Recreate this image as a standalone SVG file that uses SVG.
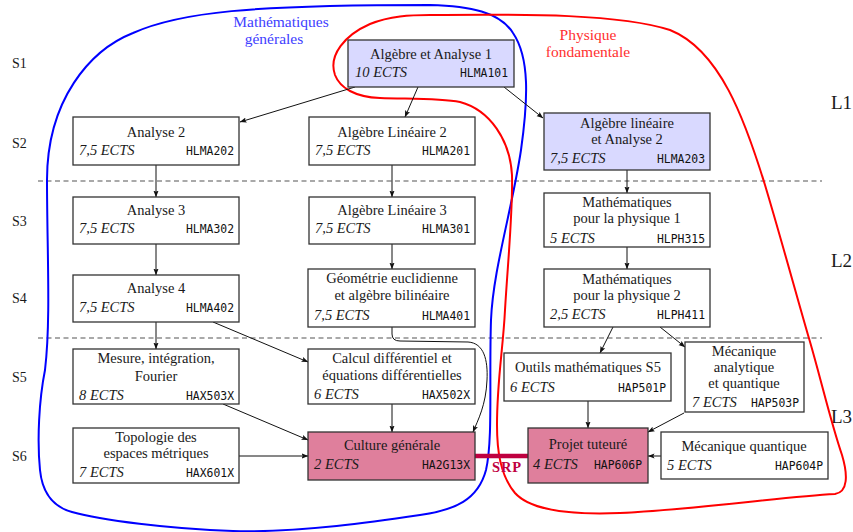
<svg xmlns="http://www.w3.org/2000/svg" width="853" height="532" viewBox="0 0 853 532">
<defs>
<marker id="ah" markerUnits="userSpaceOnUse" markerWidth="7" markerHeight="6" refX="6.5" refY="3" orient="auto">
<path d="M0,0.4 L6.8,3 L0,5.6 L1.3,3 z" fill="#111"/>
</marker>
<style>
.t{font-family:"Liberation Serif","Times New Roman",serif;font-size:14.5px;fill:#1a1a1a;text-anchor:middle}
.e{font-family:"Liberation Serif","Times New Roman",serif;font-size:14.5px;font-style:italic;fill:#1a1a1a}
.c{font-family:"DejaVu Sans Mono","Liberation Mono",monospace;font-size:11.4px;fill:#111;text-anchor:end}
.s{font-family:"Liberation Serif","Times New Roman",serif;font-size:14px;fill:#1a1a1a}
.l{font-family:"Liberation Serif","Times New Roman",serif;font-size:19px;fill:#1a1a1a}
.g{font-family:"Liberation Serif","Times New Roman",serif;font-size:15.5px;text-anchor:middle}
.box{fill:#fff;stroke:#333;stroke-width:1.3}
.lav{fill:#d9d9ff;stroke:#333;stroke-width:1.3}
.pink{fill:#df7f9c;stroke:#333;stroke-width:1.3}
.cn{fill:none;stroke:#111;stroke-width:1;marker-end:url(#ah)}
.dash{stroke:#555;stroke-width:1.1;stroke-dasharray:5,3.5}
</style>
</defs>
<g id="semesters">
<text class="s" x="12" y="68">S1</text>
<text class="s" x="12" y="148">S2</text>
<text class="s" x="12" y="226">S3</text>
<text class="s" x="12" y="303">S4</text>
<text class="s" x="12" y="382">S5</text>
<text class="s" x="12" y="461">S6</text>
<text class="l" x="831" y="109">L1</text>
<text class="l" x="831" y="267">L2</text>
<text class="l" x="831" y="423">L3</text>
</g>
<g id="separators">
<line class="dash" x1="38" y1="181" x2="822" y2="181"/>
<line class="dash" x1="38" y1="338" x2="822" y2="338"/>
</g>
<g id="regions" fill="none" stroke-width="2">
<path stroke="#0000ff" d="M 430,5 C 470,6 500,12 513,33 C 530,58 528,100 521,150 C 512,210 493,270 491,320 C 489,380 493,440 486,470 C 478,500 455,510 420,515 C 380,521 300,533 233,531 C 170,529 100,520 72,512 C 50,506 42,490 40,470 C 37,440 39,400 45,370 C 51,320 47,250 47,180 C 47,100 90,50 133,33 C 180,12 250,5 430,5 Z"/>
<path stroke="#ff0000" d="M 430,15 C 530,14 620,14 670,30 C 720,50 745,120 765,185 C 780,235 795,290 808,335 C 820,375 830,420 842,455 C 848,475 848,492 835,494 C 780,497 690,510 620,513 C 570,515 530,510 515,493 C 500,475 497,450 497,425 C 497,380 503,350 505,310 C 508,260 513,210 512,175 C 510,140 490,110 460,102 C 440,98 410,99 380,98 C 355,97 340,88 335,75 C 328,55 345,35 370,24 C 390,16 410,15 430,15 Z"/>
<text class="g" x="281" y="26.5" fill="#4040ff" stroke="none">Mathématiques</text>
<text class="g" x="274" y="44" fill="#4040ff" stroke="none">générales</text>
<text class="g" x="588" y="39.5" fill="#ff3030" stroke="none">Physique</text>
<text class="g" x="588" y="57" fill="#ff3030" stroke="none">fondamentale</text>
</g>
<g id="connectors">
<line class="cn" x1="355" y1="87" x2="240" y2="122"/>
<line class="cn" x1="418" y1="87" x2="405" y2="117"/>
<line class="cn" x1="504" y1="87" x2="543" y2="118"/>
<line class="cn" x1="156" y1="165" x2="156" y2="197"/>
<line class="cn" x1="392" y1="165" x2="392" y2="197"/>
<line class="cn" x1="627" y1="170" x2="627" y2="193"/>
<line class="cn" x1="156" y1="244" x2="156" y2="275"/>
<line class="cn" x1="392" y1="244" x2="392" y2="269"/>
<line class="cn" x1="627" y1="247" x2="627" y2="269"/>
<line class="cn" x1="156" y1="322" x2="156" y2="349"/>
<line class="cn" x1="213" y1="322" x2="308" y2="362"/>
<path class="cn" d="M392,327 L392,334 Q392,341 400,341 L468,342 C484,343 488,360 487,380 C486,405 478,420 473,432"/>
<line class="cn" x1="392" y1="404" x2="392" y2="432"/>
<line class="cn" x1="223" y1="404" x2="308" y2="440"/>
<line class="cn" x1="239" y1="456" x2="308" y2="456"/>
<line class="cn" x1="613" y1="327" x2="600" y2="353"/>
<line class="cn" x1="660" y1="327" x2="685" y2="347"/>
<line class="cn" x1="588" y1="401" x2="588" y2="428"/>
<line class="cn" x1="684" y1="413" x2="648" y2="432"/>
<line class="cn" x1="661" y1="456" x2="648" y2="456"/>
<line x1="475" y1="456" x2="528" y2="456" stroke="#bf0040" stroke-width="4.5"/>
<text x="507" y="472" font-family="Liberation Serif,serif" font-size="14.5" font-weight="bold" fill="#bf0040" text-anchor="middle" letter-spacing="0.8">SRP</text>
</g>
<g id="HLMA101"><rect class="lav" x="348" y="40" width="166" height="47"/><text class="t" x="431" y="59">Algèbre et Analyse 1</text><text class="e" x="355" y="77">10 ECTS</text><text class="c" x="508" y="77">HLMA101</text></g>
<g id="HLMA202"><rect class="box" x="73" y="117" width="166" height="48"/><text class="t" x="156" y="137">Analyse 2</text><text class="e" x="79" y="155">7,5 ECTS</text><text class="c" x="234" y="155">HLMA202</text></g>
<g id="HLMA201"><rect class="box" x="309" y="117" width="166" height="48"/><text class="t" x="392" y="137">Algèbre Linéaire 2</text><text class="e" x="315" y="155">7,5 ECTS</text><text class="c" x="470" y="155">HLMA201</text></g>
<g id="HLMA203"><rect class="lav" x="544" y="113" width="166" height="57"/><text class="t" x="627" y="128">Algèbre linéaire</text><text class="t" x="627" y="144">et Analyse 2</text><text class="e" x="550" y="163">7,5 ECTS</text><text class="c" x="705" y="163">HLMA203</text></g>
<g id="HLMA302"><rect class="box" x="73" y="197" width="166" height="47"/><text class="t" x="156" y="215">Analyse 3</text><text class="e" x="79" y="233">7,5 ECTS</text><text class="c" x="234" y="233">HLMA302</text></g>
<g id="HLMA301"><rect class="box" x="309" y="197" width="166" height="47"/><text class="t" x="392" y="215">Algèbre Linéaire 3</text><text class="e" x="315" y="233">7,5 ECTS</text><text class="c" x="470" y="233">HLMA301</text></g>
<g id="HLPH315"><rect class="box" x="544" y="193" width="166" height="54"/><text class="t" x="627" y="207">Mathématiques</text><text class="t" x="627" y="223">pour la physique 1</text><text class="e" x="550" y="243">5 ECTS</text><text class="c" x="705" y="243">HLPH315</text></g>
<g id="HLMA402"><rect class="box" x="73" y="275" width="166" height="47"/><text class="t" x="156" y="293">Analyse 4</text><text class="e" x="79" y="312">7,5 ECTS</text><text class="c" x="234" y="312">HLMA402</text></g>
<g id="HLMA401"><rect class="box" x="308" y="269" width="167" height="58"/><text class="t" x="392" y="283">Géométrie euclidienne</text><text class="t" x="392" y="300">et algèbre bilinéaire</text><text class="e" x="314" y="320">7,5 ECTS</text><text class="c" x="470" y="320">HLMA401</text></g>
<g id="HLPH411"><rect class="box" x="544" y="269" width="166" height="58"/><text class="t" x="627" y="284">Mathématiques</text><text class="t" x="627" y="300">pour la physique 2</text><text class="e" x="550" y="319">2,5 ECTS</text><text class="c" x="705" y="319">HLPH411</text></g>
<g id="HAX503X"><rect class="box" x="73" y="349" width="166" height="55"/><text class="t" x="156" y="363">Mesure, intégration,</text><text class="t" x="156" y="381">Fourier</text><text class="e" x="79" y="400">8 ECTS</text><text class="c" x="234" y="400">HAX503X</text></g>
<g id="HAX502X"><rect class="box" x="308" y="349" width="167" height="55"/><text class="t" x="392" y="363">Calcul différentiel et</text><text class="t" x="392" y="380">équations différentielles</text><text class="e" x="314" y="399">6 ECTS</text><text class="c" x="470" y="399">HAX502X</text></g>
<g id="HAP501P"><rect class="box" x="504" y="353" width="167" height="48"/><text class="t" x="588" y="372">Outils mathématiques S5</text><text class="e" x="510" y="392">6 ECTS</text><text class="c" x="666" y="392">HAP501P</text></g>
<g id="HAP503P"><rect class="box" x="685" y="342" width="119" height="70"/><text class="t" x="744" y="356">Mécanique</text><text class="t" x="744" y="372">analytique</text><text class="t" x="744" y="388">et quantique</text><text class="e" x="692" y="407">7 ECTS</text><text class="c" x="799" y="407">HAP503P</text></g>
<g id="HAX601X"><rect class="box" x="73" y="428" width="166" height="55"/><text class="t" x="156" y="442">Topologie des</text><text class="t" x="156" y="458">espaces métriques</text><text class="e" x="79" y="477">7 ECTS</text><text class="c" x="234" y="477">HAX601X</text></g>
<g id="HA2G13X"><rect class="pink" x="308" y="432" width="167" height="48"/><text class="t" x="392" y="450">Culture générale</text><text class="e" x="314" y="469">2 ECTS</text><text class="c" x="470" y="469">HA2G13X</text></g>
<g id="HAP606P"><rect class="pink" x="528" y="428" width="120" height="55"/><text class="t" x="588" y="449">Projet tuteuré</text><text class="e" x="533" y="469">4 ECTS</text><text class="c" x="642" y="469">HAP606P</text></g>
<g id="HAP604P"><rect class="box" x="661" y="432" width="167" height="47"/><text class="t" x="744" y="451">Mécanique quantique</text><text class="e" x="667" y="470">5 ECTS</text><text class="c" x="823" y="470">HAP604P</text></g>
</svg>
